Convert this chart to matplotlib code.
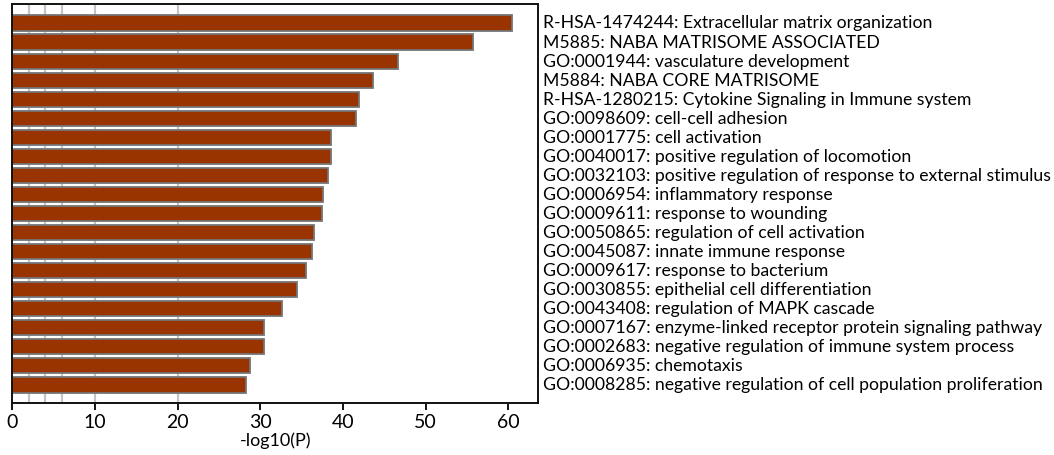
import matplotlib
matplotlib.use("Agg")
import matplotlib.pyplot as plt
import matplotlib.transforms as mtransforms

terms = [
    "R-HSA-1474244: Extracellular matrix organization",
    "M5885: NABA MATRISOME ASSOCIATED",
    "GO:0001944: vasculature development",
    "M5884: NABA CORE MATRISOME",
    "R-HSA-1280215: Cytokine Signaling in Immune system",
    "GO:0098609: cell-cell adhesion",
    "GO:0001775: cell activation",
    "GO:0040017: positive regulation of locomotion",
    "GO:0032103: positive regulation of response to external stimulus",
    "GO:0006954: inflammatory response",
    "GO:0009611: response to wounding",
    "GO:0050865: regulation of cell activation",
    "GO:0045087: innate immune response",
    "GO:0009617: response to bacterium",
    "GO:0030855: epithelial cell differentiation",
    "GO:0043408: regulation of MAPK cascade",
    "GO:0007167: enzyme-linked receptor protein signaling pathway",
    "GO:0002683: negative regulation of immune system process",
    "GO:0006935: chemotaxis",
    "GO:0008285: negative regulation of cell population proliferation",
]
neg_log10_p = [60.5, 55.7, 46.7, 43.7, 41.9, 41.6, 38.6, 38.5, 38.2, 37.6,
               37.5, 36.5, 36.3, 35.5, 34.4, 32.6, 30.5, 30.4, 28.8, 28.3]
x_ticks = [0, 10, 20, 30, 40, 50, 60]
grid_positions = [2, 4, 6, 10, 20]

plt.rcParams["font.family"] = ["Lato", "DejaVu Sans"]

fig = plt.figure(figsize=(10.54, 4.56), dpi=100)
ax = fig.add_axes([0.0117, 0.114, 0.4987, 0.875])

for g in grid_positions:
    ax.axvline(g, color="#c4c4c4", lw=1.6, zorder=0)

pos = list(range(len(terms)))
ax.barh(pos, neg_log10_p, height=0.8, color="#993300",
        edgecolor="#757575", linewidth=1.3, zorder=2)

ax.set_ylim(len(terms) - 0.05, -1.0)
ax.set_xlim(0, 63.6)

ax.set_xticks(x_ticks)
ax.set_xticklabels([str(t) for t in x_ticks], fontsize=14)
ax.tick_params(axis="x", direction="out", length=5, width=1.3, pad=2)
ax.set_xlabel("-log10(P)", fontsize=13, labelpad=1)

ax.yaxis.tick_right()
ax.set_yticks(pos)
ax.set_yticklabels(terms, fontsize=12.7)
ax.tick_params(axis="y", length=0, pad=3.5)

# nudge the term labels slightly upward
lift = mtransforms.ScaledTranslation(0, 1.5 / 72, fig.dpi_scale_trans)
for lbl in ax.get_yticklabels():
    lbl.set_transform(lbl.get_transform() + lift)

for s in ax.spines.values():
    s.set_linewidth(1.4)
    s.set_color("#111111")

fig.savefig("out.png", dpi=100)
